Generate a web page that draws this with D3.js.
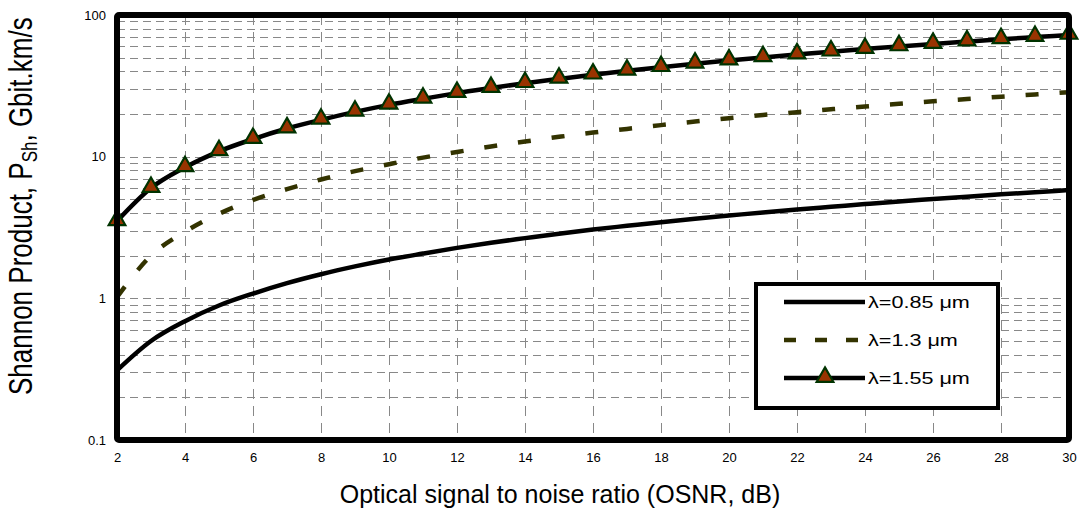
<!DOCTYPE html>
<html>
<meta charset="utf-8">
<style>
body { margin: 0; font-family: "Liberation Sans", Arial, sans-serif; background: #fff; }
.grid line { stroke: #888; stroke-width: 1; stroke-dasharray: 8,5; shape-rendering: crispEdges; }
.grid.v line { stroke-dasharray: 10,7; }
.tick text { font-size: 13px; fill: #000; }
</style>
<body>
<script src="https://d3js.org/d3.v7.min.js"></script>
<script>
var osnr = d3.range(2, 31);
var xTicks = [2, 4, 6, 8, 10, 12, 14, 16, 18, 20, 22, 24, 26, 28, 30];
var yTicks = [0.1, 1, 10, 100];
var series = ["λ=0.85 μm", "λ=1.3 μm", "λ=1.55 μm"];

var p085 = [0.31, 0.50, 0.69, 0.89, 1.08, 1.28, 1.48, 1.68, 1.88, 2.07, 2.27, 2.47, 2.66, 2.86, 3.06,
            3.25, 3.45, 3.65, 3.84, 4.04, 4.24, 4.43, 4.63, 4.83, 5.02, 5.22, 5.42, 5.61, 5.81];
var p13 = [1.02, 2.0, 2.95, 3.95, 4.95, 5.9, 6.9, 7.9, 8.85, 9.85, 10.8, 11.8, 12.8, 13.8, 14.8,
           15.7, 16.7, 17.7, 18.7, 19.7, 20.6, 21.6, 22.6, 23.6, 24.6, 25.5, 26.5, 27.5, 28.5];
var p155 = [3.5, 6.0, 8.4, 10.9, 13.3, 15.8, 18.2, 20.7, 23.2, 25.6, 28.1, 30.5, 33.0, 35.4, 37.9,
            40.3, 42.8, 45.3, 47.7, 50.2, 52.6, 55.1, 57.5, 60.0, 62.4, 64.9, 67.4, 69.8, 72.3];

var W = 1081, H = 512;
var margin = {top: 15, right: 12, bottom: 72, left: 117};
var width = W - margin.left - margin.right,
    height = H - margin.top - margin.bottom;

var svg = d3.select("body").append("svg")
    .attr("width", W).attr("height", H);
var g = svg.append("g")
    .attr("transform", "translate(" + margin.left + "," + margin.top + ")");

var x = d3.scaleLinear().domain([2, 30]).range([0, width]);
var y = d3.scaleLog().domain([0.1, 100]).range([height, 0]);

// grid lines
var minor = [];
[0.1, 1, 10].forEach(function(d) { for (var k = 1; k <= 9; k++) minor.push(d * k); });
g.append("g").attr("class", "grid")
  .selectAll("line").data(minor.filter(function(d) { return d > 0.1; }))
  .enter().append("line")
    .attr("x1", 0).attr("x2", width)
    .attr("y1", function(d) { return Math.round(y(d)) + 0.5; })
    .attr("y2", function(d) { return Math.round(y(d)) + 0.5; });
g.append("g").attr("class", "grid v")
  .selectAll("line").data(xTicks.slice(1, -1))
  .enter().append("line")
    .attr("y1", 0).attr("y2", height)
    .attr("x1", function(d) { return Math.round(x(d)) + 0.5; })
    .attr("x2", function(d) { return Math.round(x(d)) + 0.5; });

// axes
var xAxis = g.append("g")
    .attr("transform", "translate(0," + height + ")")
    .call(d3.axisBottom(x).tickValues(xTicks).tickSize(0).tickPadding(13));
xAxis.select(".domain").remove();
var yAxis = g.append("g")
    .call(d3.axisLeft(y).tickValues(yTicks).tickFormat(d3.format("~g")).tickSize(0).tickPadding(11));
yAxis.select(".domain").remove();

// curves
var line = d3.line()
    .x(function(d, i) { return x(osnr[i]); })
    .y(function(d) { return y(d); })
    .curve(d3.curveMonotoneX);

g.append("path").attr("d", line(p085))
    .attr("fill", "none").attr("stroke", "#000").attr("stroke-width", 4.5);
g.append("path").attr("d", line(p13))
    .attr("fill", "none").attr("stroke", "#333300").attr("stroke-width", 4.5)
    .attr("stroke-dasharray", "13,21");
g.append("path").attr("d", line(p155))
    .attr("fill", "none").attr("stroke", "#000").attr("stroke-width", 4.5);

var tri = d3.symbol().type(d3.symbolTriangle).size(120);
g.append("g").selectAll("path").data(p155).enter().append("path")
    .attr("d", tri)
    .attr("transform", function(d, i) { return "translate(" + x(osnr[i]) + "," + (y(d) - 1) + ")"; })
    .attr("fill", "#993300").attr("stroke", "#003300").attr("stroke-width", 2.2);

// plot frame
g.append("rect").attr("x", 0).attr("y", 0).attr("width", width).attr("height", height)
    .attr("fill", "none").attr("stroke", "#000").attr("stroke-width", 6).attr("rx", 2);

// legend
var lg = svg.append("g").attr("transform", "translate(756,284)");
lg.append("rect").attr("width", 242).attr("height", 124)
    .attr("fill", "#fff").attr("stroke", "#000").attr("stroke-width", 4);
var rows = [18, 56, 94];
var styles = [
  {stroke: "#000", dash: null},
  {stroke: "#333300", dash: "12,19"},
  {stroke: "#000", dash: null}
];
series.forEach(function(s, i) {
  lg.append("line").attr("x1", 28).attr("x2", 109)
    .attr("y1", rows[i]).attr("y2", rows[i])
    .attr("stroke", styles[i].stroke).attr("stroke-width", 4.5)
    .attr("stroke-dasharray", styles[i].dash);
  lg.append("text")
    .attr("transform", "translate(112," + (rows[i] + 6) + ") scale(1.27,1)")
    .attr("font-size", "17px").text(s);
});
lg.append("path").attr("d", tri)
    .attr("transform", "translate(69," + (rows[2] - 1) + ")")
    .attr("fill", "#993300").attr("stroke", "#003300").attr("stroke-width", 2.2);

// axis titles
svg.append("text")
    .attr("x", 560).attr("y", 503)
    .attr("text-anchor", "middle").attr("font-size", "25px")
    .text("Optical signal to noise ratio (OSNR, dB)");

var yl = svg.append("text")
    .attr("transform", "translate(32,395) rotate(-90) scale(1,1.25)")
    .attr("text-anchor", "start").attr("font-size", "26px");
yl.append("tspan").text("Shannon Product, P");
yl.append("tspan").attr("font-size", "17px").attr("dy", 4).text("Sh");
yl.append("tspan").attr("dy", -4).text(", Gbit.km/s");
</script>
</body>
</html>
